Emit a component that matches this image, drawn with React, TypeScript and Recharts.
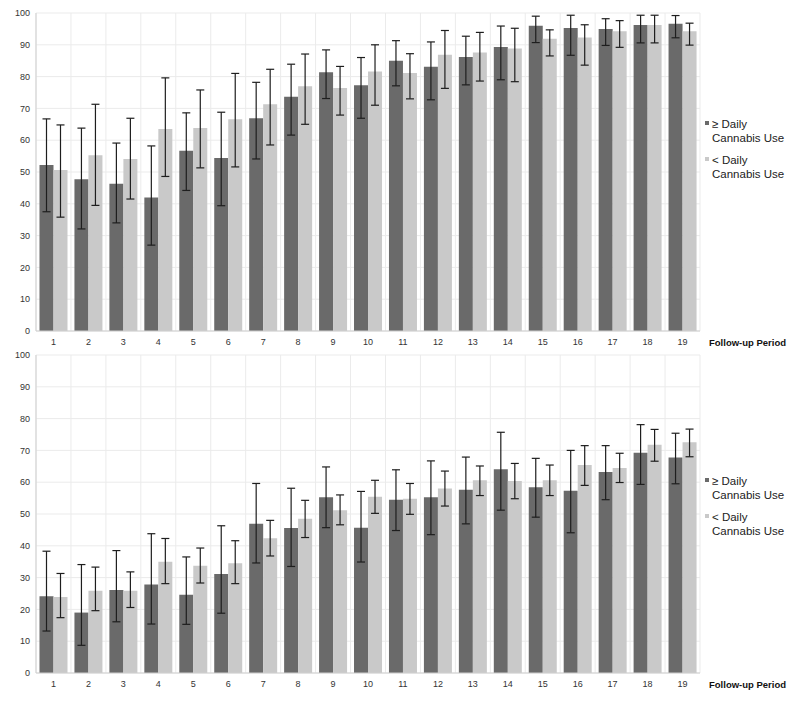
import { Bar, BarChart, CartesianGrid, ErrorBar, Legend, XAxis, YAxis } from "recharts";

const PERIODS = ["1", "2", "3", "4", "5", "6", "7", "8", "9", "10", "11", "12", "13", "14", "15", "16", "17", "18", "19"];
const Y_TICKS = [0, 10, 20, 30, 40, 50, 60, 70, 80, 90, 100];
const SERIES_ORDER = ["daily", "less"];

// top panel
const TOP_DAILY = [52.2, 47.7, 46.3, 42.0, 56.7, 54.4, 66.9, 73.7, 81.4, 77.3, 85.0, 83.1, 86.2, 89.3, 96.0, 95.3, 95.0, 96.2, 96.6];
const TOP_DAILY_LO = [37.5, 32.1, 34.0, 27.0, 44.2, 39.4, 54.1, 61.6, 73.1, 66.9, 77.1, 72.7, 77.4, 79.0, 90.7, 86.7, 89.8, 90.6, 92.2];
const TOP_DAILY_HI = [66.7, 63.8, 59.1, 58.2, 68.6, 68.8, 78.2, 83.9, 88.4, 86.0, 91.3, 90.9, 92.7, 95.9, 99.0, 99.3, 98.2, 99.3, 99.2];
const TOP_LESS = [50.6, 55.3, 54.1, 63.5, 63.8, 66.6, 71.3, 77.0, 76.4, 81.6, 81.1, 86.9, 87.6, 88.8, 91.9, 92.3, 94.3, 96.2, 94.3];
const TOP_LESS_LO = [35.8, 39.5, 41.5, 48.6, 51.3, 51.6, 58.5, 65.0, 67.9, 71.0, 73.0, 76.3, 78.6, 78.4, 86.5, 83.6, 89.2, 90.6, 89.9];
const TOP_LESS_HI = [64.8, 71.3, 66.9, 79.6, 75.8, 81.0, 82.3, 87.1, 83.2, 90.0, 87.2, 94.5, 93.9, 95.2, 94.7, 96.3, 97.6, 99.3, 96.8];

// bottom panel
const BOT_DAILY = [24.1, 19.0, 26.1, 27.8, 24.6, 31.1, 46.9, 45.6, 55.3, 45.7, 54.5, 55.3, 57.6, 64.1, 58.4, 57.3, 63.2, 69.3, 67.8];
const BOT_DAILY_LO = [13.2, 8.7, 16.1, 15.4, 15.3, 18.8, 34.6, 33.5, 45.7, 34.9, 44.8, 43.5, 46.9, 51.2, 49.0, 44.1, 54.5, 59.3, 59.5];
const BOT_DAILY_HI = [38.3, 34.1, 38.5, 43.8, 36.5, 46.3, 59.6, 58.1, 64.8, 57.1, 63.9, 66.7, 67.9, 75.7, 67.5, 70.0, 71.5, 78.1, 75.4];
const BOT_LESS = [23.9, 25.9, 25.9, 35.0, 33.7, 34.5, 42.4, 48.5, 51.2, 55.4, 54.8, 58.0, 60.6, 60.4, 60.6, 65.4, 64.5, 71.8, 72.6];
const BOT_LESS_LO = [17.4, 19.6, 20.6, 28.1, 28.3, 28.1, 36.8, 42.6, 46.6, 50.2, 49.9, 52.5, 55.8, 54.8, 55.8, 59.0, 59.9, 66.6, 68.0];
const BOT_LESS_HI = [31.3, 33.3, 31.8, 42.3, 39.3, 41.6, 48.0, 54.3, 56.0, 60.6, 59.6, 63.5, 65.1, 65.9, 65.4, 71.5, 69.1, 76.6, 76.7];

const DARK = "#6a6a6a";
const LIGHT = "#c9c9c9";
const FONT = "'Liberation Sans', Arial, sans-serif";

function buildRows(d: number[], dLo: number[], dHi: number[], l: number[], lLo: number[], lHi: number[]) {
  return PERIODS.map((p, i) => ({
    period: p,
    daily: d[i],
    dailyErr: [d[i] - dLo[i], dHi[i] - d[i]],
    less: l[i],
    lessErr: [l[i] - lLo[i], lHi[i] - l[i]],
  }));
}

const TOP_ROWS = buildRows(TOP_DAILY, TOP_DAILY_LO, TOP_DAILY_HI, TOP_LESS, TOP_LESS_LO, TOP_LESS_HI);
const BOT_ROWS = buildRows(BOT_DAILY, BOT_DAILY_LO, BOT_DAILY_HI, BOT_LESS, BOT_LESS_LO, BOT_LESS_HI);

function LegendBox({ payload }: any) {
  const items = [...(payload || [])].sort(
    (a: any, b: any) => SERIES_ORDER.indexOf(a.dataKey) - SERIES_ORDER.indexOf(b.dataKey)
  );
  return (
    <div style={{ fontFamily: FONT, fontSize: 11.5, lineHeight: "13.5px", color: "#222" }}>
      {items.map((e: any) => (
        <div key={e.value} style={{ position: "relative", paddingLeft: 8, marginBottom: 9, width: 90 }}>
          <span
            style={{ position: "absolute", left: 1, top: 3, width: 4, height: 4, background: e.color }}
          />
          {e.value.split("\n").map((t: string) => (
            <div key={t} style={{ whiteSpace: "nowrap" }}>{t}</div>
          ))}
        </div>
      ))}
    </div>
  );
}

function AxisTitle({ viewBox }: any) {
  return (
    <text
      x={viewBox.x + viewBox.width + 9}
      y={viewBox.y + 14.5}
      fontFamily={FONT}
      fontSize={9.5}
      fontWeight="bold"
      fill="#111"
    >
      Follow-up Period
    </text>
  );
}

function Panel({ rows, height, top, legendTop }: { rows: any[]; height: number; top: number; legendTop: number }) {
  return (
    <BarChart
      width={800}
      height={height}
      data={rows}
      margin={{ top, right: 100, left: 0, bottom: height - top - 318 - 14 }}
      barCategoryGap="10%"
      barGap={0}
    >
      <CartesianGrid
        stroke="#ebebeb"
        verticalCoordinatesGenerator={({ offset }: any) =>
          PERIODS.map((_, i) => offset.left + (i * offset.width) / PERIODS.length).concat(offset.left + offset.width)
        }
      />
      <XAxis
        dataKey="period"
        height={14}
        tickLine={false}
        axisLine={{ stroke: "#cfcfcf" }}
        tick={{ fontSize: 9, fill: "#333", fontFamily: FONT }}
        interval={0}
        label={<AxisTitle />}
      />
      <YAxis
        width={36}
        domain={[0, 100]}
        ticks={Y_TICKS}
        interval={0}
        tickLine={false}
        tickSize={4}
        tickMargin={2}
        axisLine={{ stroke: "#cfcfcf" }}
        tick={{ fontSize: 9, fill: "#333", fontFamily: FONT }}
      />
      <Legend
        layout="vertical"
        align="center"
        verticalAlign="middle"
        content={<LegendBox />}
        wrapperStyle={{ left: 704, top: legendTop, width: 96 }}
      />
      <Bar dataKey="daily" name={"≥ Daily\nCannabis Use"} fill={DARK} isAnimationActive={false}>
        <ErrorBar dataKey="dailyErr" width={4} stroke="#1e1e1e" strokeWidth={1.2} direction="y" />
      </Bar>
      <Bar dataKey="less" name={"< Daily\nCannabis Use"} fill={LIGHT} isAnimationActive={false}>
        <ErrorBar dataKey="lessErr" width={4} stroke="#1e1e1e" strokeWidth={1.2} direction="y" />
      </Bar>
    </BarChart>
  );
}

export default function App() {
  return (
    <div style={{ position: "absolute", left: 0, top: 0, width: 800, height: 718, background: "#fff" }}>
      <div style={{ position: "absolute", left: 0, top: 0 }}>
        <Panel rows={TOP_ROWS} height={356} top={13} legendTop={118} />
      </div>
      <div style={{ position: "absolute", left: 0, top: 345 }}>
        <Panel rows={BOT_ROWS} height={373} top={10} legendTop={130} />
      </div>
    </div>
  );
}
